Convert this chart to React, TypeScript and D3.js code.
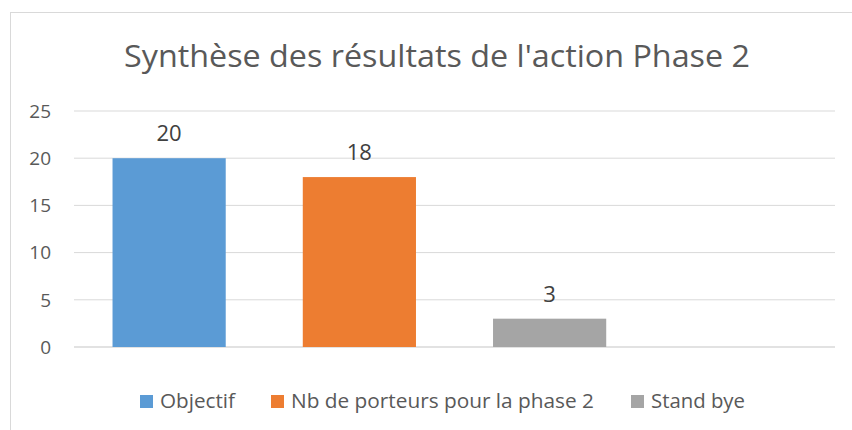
import React from "react";
import * as d3 from "d3";

const categories = ["Objectif", "Nb de porteurs pour la phase 2", "Stand bye", ""];
const values = [20, 18, 3, null];
const colors = ["#5B9BD5", "#ED7D31", "#A5A5A5"];
const legendLabels = ["Objectif", "Nb de porteurs pour la phase 2", "Stand bye"];
const yTicks = [0, 5, 10, 15, 20, 25];
const title = "Synthèse des résultats de l'action Phase 2";

export default function App() {
  const W = 852, H = 430;
  const x = d3.scaleBand().domain(categories).range([74, 835]).paddingInner(0.405).paddingOuter(0.2025);
  const y = d3.scaleLinear().domain([0, 25]).range([347, 111]);
  const font = "'Open Sans', 'Liberation Sans', sans-serif";
  const legendX = [140, 271, 631];
  const legendW = [75, 303, 94];
  return (
    <svg width={W} height={H} style={{ position: "absolute", left: 0, top: 0, background: "#fff" }} fontFamily={font}>
      <rect x={10.5} y={12.5} width={W} height={H} fill="#fff" stroke="#d9d9d9" strokeWidth={1} />
      <text x={437} y={67} textAnchor="middle" fontSize={31} fill="#595959" textLength={626} lengthAdjust="spacingAndGlyphs">{title}</text>
      {yTicks.map((t) => (
        <g key={t}>
          <line x1={74} x2={835} y1={y(t)} y2={y(t)} stroke="#d9d9d9" strokeWidth={t === 0 ? 1.5 : 1} />
          <text x={51} y={y(t)} dy="0.36em" textAnchor="end" fontSize={19} fill="#595959">{t}</text>
        </g>
      ))}
      {categories.map((c, i) => {
        const v = values[i];
        if (v == null) return null;
        return (
          <g key={c}>
            <rect x={x(c)} y={y(v)} width={x.bandwidth()} height={y(0) - y(v)} fill={colors[i]} />
            <text x={(x(c) as number) + x.bandwidth() / 2} y={y(v) - 17} textAnchor="middle" fontSize={22} fill="#404040">{v}</text>
          </g>
        );
      })}
      {legendLabels.map((l, i) => (
        <g key={l}>
          <rect x={legendX[i]} y={395} width={13} height={13} fill={colors[i]} />
          <text x={legendX[i] + 20} y={408} fontSize={20} fill="#595959" textLength={legendW[i]} lengthAdjust="spacingAndGlyphs">{l}</text>
        </g>
      ))}
    </svg>
  );
}
